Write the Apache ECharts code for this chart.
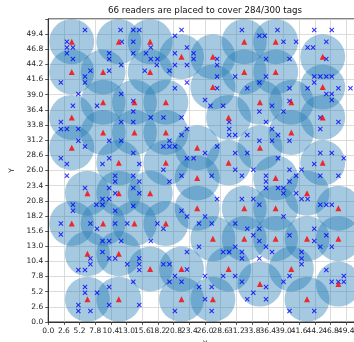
<!DOCTYPE html>
<html>
<head>
<meta charset="utf-8">
<script src="https://cdn.jsdelivr.net/npm/echarts@6/dist/echarts.min.js"></script>
<style>
  html, body { margin: 0; padding: 0; background: #fff; }
  #chart { width: 354px; height: 342px; }
</style>
</head>
<body>
<div id="chart"></div>
<script>
// Reader positions (red triangles) and their coverage discs
const readerX = [3.9,11.7,16.9,22.1,3.9,9.1,16.9,9.1,14.3,19.5,3.9,32.5,37.7,27.3,45.5,32.5,37.7,27.3,45.5,35.1,40.3,29.9,45.5,
  9.1,14.3,19.5,3.9,24.7,11.7,19.5,24.7,6.5,11.7,16.9,24.7,40.3,35.1,29.9,45.5,37.7,42.9,32.5,37.7,48.1,
  3.9,9.1,14.3,19.5,6.5,11.7,16.9,22.1,6.5,11.7,22.1,32.5,37.7,42.9,48.1,27.3,29.9,40.3,35.1,48.1,27.3,42.9];
const readerY = [48.1,48.1,48.1,45.5,42.9,42.9,42.9,37.7,37.7,37.7,35.1,48.1,48.1,45.5,45.5,42.9,42.9,40.3,40.3,37.7,37.7,35.1,35.1,
  32.5,32.5,32.5,29.9,29.9,27.3,27.3,24.7,22.1,22.1,22.1,19.5,32.5,29.9,27.3,27.3,24.7,22.1,19.5,19.5,19.5,
  16.9,16.9,16.9,16.9,11.7,11.7,9.1,9.1,3.9,3.9,3.9,14.3,14.3,14.3,14.3,14.3,9.1,9.1,6.5,6.5,3.9,3.9];

// Tag positions (blue crosses)
const tagX = [
  6.1,3.1,3.1,4.1,3.1,4.1,12.0,14.1,15.1,12.2,
  14.1,17.0,14.1,16.2,17.0,18.1,10.1,10.1,12.1,18.0,
  21.0,22.1,23.0,21.0,24.1,24.1,21.0,23.0,20.1,16.0,
  7.0,6.1,6.1,10.1,2.1,23.0,5.0,12.1,21.0,14.1,
  4.1,8.1,14.1,2.1,12.1,14.1,17.0,19.1,22.1,32.1,
  38.0,44.1,47.0,35.0,35.9,39.0,41.1,46.1,43.0,43.9,
  28.0,28.0,36.1,40.0,46.1,31.0,28.0,36.1,35.0,44.1,
  45.1,46.1,47.0,44.1,28.0,33.0,40.0,43.0,48.1,50.1,
  46.1,47.0,47.0,26.0,26.9,29.0,37.1,40.0,35.0,39.0,
  45.1,30.0,36.1,48.1,2.1,3.1,5.0,23.0,22.1,5.0,
  6.1,10.1,12.1,20.1,19.1,20.1,21.0,14.1,2.1,3.1,
  10.1,9.0,15.1,23.0,24.1,19.1,20.1,22.1,3.1,11.1,
  11.1,14.1,15.1,6.1,10.1,14.1,11.1,15.1,9.0,10.1,
  8.0,9.0,4.1,4.1,11.1,14.1,22.1,23.0,30.0,45.1,
  30.0,31.0,33.0,37.1,38.1,35.0,37.1,40.0,28.0,26.0,
  31.0,33.0,45.1,47.0,38.1,49.0,44.1,31.0,32.1,34.0,
  40.0,42.0,27.1,45.1,48.1,36.1,36.1,36.1,41.1,40.0,
  38.1,39.0,39.0,41.1,42.0,43.0,28.0,32.1,34.0,35.0,
  45.1,46.1,47.0,26.0,39.0,2.1,2.1,7.0,8.1,11.1,
  13.1,18.1,19.1,9.0,10.1,12.1,17.0,9.0,10.1,11.1,
  7.0,7.0,5.0,6.1,13.1,15.1,15.1,15.1,19.1,20.1,
  23.0,23.0,21.0,20.1,22.1,14.1,6.1,6.1,8.1,10.1,
  5.0,5.0,7.0,10.1,15.1,21.0,25.0,27.1,31.0,33.0,
  35.0,34.0,35.0,40.0,44.1,46.1,25.0,31.0,36.1,44.1,
  45.1,47.0,29.0,30.0,32.1,32.1,37.1,42.0,42.0,42.0,
  35.0,46.1,29.0,31.0,32.1,26.0,40.0,39.0,47.0,48.1,
  49.0,49.0,25.0,27.1,34.0,36.1,26.0,33.0,36.1,27.1,
  40.0,44.1
];
const tagY = [
  50.1,48.1,47.1,47.1,46.1,45.1,50.1,50.1,50.1,48.1,
  48.1,47.1,46.1,46.1,45.1,45.1,46.1,45.1,44.1,44.1,
  49.1,50.1,47.1,46.1,46.1,45.1,44.1,44.1,43.1,43.1,
  43.1,42.1,41.1,43.1,41.1,41.1,39.1,39.1,40.1,37.9,
  37.1,37.1,36.1,34.3,34.3,34.3,35.1,35.1,35.1,50.1,
  50.1,50.1,50.1,49.1,49.1,48.1,48.1,48.1,47.1,47.1,
  45.1,44.1,45.1,45.1,45.1,42.1,42.1,42.1,41.1,42.1,
  42.1,42.1,42.1,41.1,40.1,40.1,40.1,40.1,40.1,40.1,
  39.1,39.1,38.1,38.1,37.1,37.1,37.1,37.9,36.1,36.1,
  35.1,34.3,34.3,34.3,33.1,33.1,33.1,33.1,32.1,31.1,
  30.1,31.1,31.1,31.1,30.1,30.1,30.1,29.0,28.1,27.1,
  28.1,27.1,27.1,28.1,28.1,26.1,24.1,25.1,25.1,25.1,
  24.1,25.1,24.1,23.0,23.0,23.0,22.1,22.1,21.1,21.1,
  20.1,20.1,20.1,19.1,19.1,19.9,19.1,18.1,33.1,33.1,
  32.1,32.1,32.1,33.1,32.1,31.1,31.1,31.1,30.1,29.0,
  29.0,29.0,29.0,29.0,28.1,28.1,27.1,26.1,25.1,26.1,
  26.1,26.1,25.1,25.1,25.1,25.1,24.1,23.0,25.1,24.1,
  23.0,23.0,22.1,22.1,21.1,21.1,21.1,21.1,21.1,20.1,
  20.1,20.1,20.1,18.1,18.1,16.9,15.0,16.9,16.0,16.9,
  16.9,16.9,16.0,13.9,13.9,13.9,13.9,12.0,10.9,10.9,
  10.9,9.9,8.9,8.9,9.9,10.9,9.9,8.9,9.9,9.9,
  12.0,9.0,7.9,6.9,6.9,6.9,6.0,5.0,5.0,6.0,
  2.9,1.9,1.9,2.9,2.9,1.9,16.9,16.9,16.9,16.0,
  16.0,14.9,13.9,14.9,16.0,14.9,12.9,12.9,12.9,13.9,
  12.9,12.9,12.0,12.0,12.0,10.9,12.0,12.0,10.9,9.9,
  10.9,8.9,7.9,7.9,6.9,7.9,7.9,6.9,6.9,6.9,
  6.9,7.9,6.0,6.0,5.0,6.0,3.9,3.9,3.9,1.9,
  1.9,1.9
];

// Axis extent and tick step
const axisMax = 52;
const tickStep = 2.6;
const readerCount = readerX.length;
const tagTotal = 300;
const tagCovered = 284;
const titleText = readerCount + ' readers are placed to cover ' + tagCovered + '/' + tagTotal + ' tags';

const zip = (xs, ys) => xs.map((x, i) => [x, ys[i]]);
const readers = zip(readerX, readerY);
const tags = zip(tagX, tagY);

const crossPath = 'path://M0,1.5L1.5,0L5,3.5L8.5,0L10,1.5L6.5,5L10,8.5L8.5,10L5,6.5L1.5,10L0,8.5L3.5,5Z';
const font = 'DejaVu Sans';
const tickFmt = v => (v > axisMax - 1 ? '' : v.toFixed(1));

function axis(name, gap) {
  return {
    type: 'value', min: 0, max: axisMax, interval: tickStep,
    name: name, nameLocation: 'middle', nameGap: gap,
    nameTextStyle: { fontSize: 7.5, color: '#222', fontFamily: font },
    axisLine: { show: true, onZero: false, lineStyle: { color: '#333', width: 1 } },
    axisTick: { show: true, inside: false, length: 3, lineStyle: { color: '#333', width: 0.8 } },
    axisLabel: { fontSize: 7.5, color: '#222', fontFamily: font, margin: 5, formatter: tickFmt },
    splitLine: { show: true, lineStyle: { color: '#d3d3d3', width: 0.8 } }
  };
}

const chart = echarts.init(document.getElementById('chart'), null, { renderer: 'canvas' });
chart.setOption({
  animation: false,
  backgroundColor: '#ffffff',
  textStyle: { fontFamily: font },
  graphic: [{
    type: 'text', x: 205, y: 11, z: 100,
    style: { text: titleText, fontSize: 8.7, fontFamily: font, fill: '#111', align: 'center', verticalAlign: 'middle' }
  }],
  grid: {
    left: 48.2, top: 18.9, width: 313.7, height: 303.1,
    outerBoundsMode: 'none', containLabel: false,
    show: true, borderColor: '#333', borderWidth: 1, backgroundColor: 'transparent'
  },
  xAxis: axis('X', 13),
  yAxis: axis('Y', 22),
  series: [
    {
      name: 'coverage', type: 'scatter', data: readers, symbol: 'circle', symbolSize: 45, z: 1,
      itemStyle: { color: 'rgba(31,119,180,0.5)' }, silent: true
    },
    {
      name: 'tags', type: 'scatter', data: tags, symbol: crossPath, symbolSize: 5, z: 2,
      itemStyle: { color: '#0000ff' }, silent: true
    },
    {
      name: 'readers', type: 'scatter', data: readers, symbol: 'triangle', symbolSize: 6, z: 3,
      itemStyle: { color: '#ff0000' }, silent: true
    }
  ]
});
</script>
</body>
</html>
